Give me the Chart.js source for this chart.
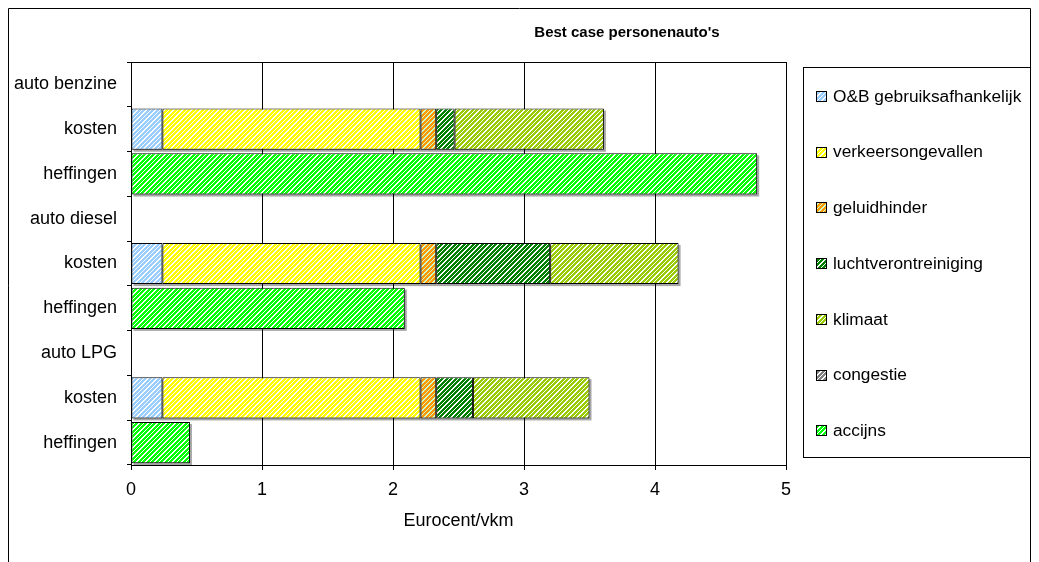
<!DOCTYPE html>
<html>
<head>
<meta charset="utf-8">
<script src="https://cdn.jsdelivr.net/npm/chart.js@4"></script>
<style>
  html, body { margin: 0; padding: 0; background: #ffffff; }
  #wrap { width: 1039px; height: 562px; position: relative; }
</style>
</head>
<body>
<div id="wrap"><canvas id="c" width="1039" height="562"></canvas></div>
<script>
// Rows of the chart (top to bottom)
const categories = ['auto benzine', 'kosten', 'heffingen', 'auto diesel', 'kosten', 'heffingen', 'auto LPG', 'kosten', 'heffingen'];

// Values in eurocent per vehicle-km
const onderhoud  = [null, 0.24, null, null, 0.24, null, null, 0.24, null];
const ongevallen = [null, 1.97, null, null, 1.97, null, null, 1.97, null];
const geluid     = [null, 0.12, null, null, 0.12, null, null, 0.12, null];
const lucht      = [null, 0.14, null, null, 0.87, null, null, 0.28, null];
const klimaat    = [null, 1.14, null, null, 0.98, null, null, 0.89, null];
const congestie  = [null, 0,    null, null, 0,    null, null, 0,    null];
const accijns    = [null, null, 4.78, null, null, 2.09, null, null, 0.45];

const xTicks = [0, 1, 2, 3, 4, 5];

const FONT = '"Liberation Sans", Arial, sans-serif';
const canvas = document.getElementById('c');
const ctx = canvas.getContext('2d');

// Diagonal hatch fill ("/" direction): coloured stripes on a light background
function stripes(fg, bg) {
  const n = 9;          // tile holds two stripe periods of 4.5 px
  const t = document.createElement('canvas');
  t.width = n; t.height = n;
  const g = t.getContext('2d');
  g.fillStyle = bg;
  g.fillRect(0, 0, n, n);
  g.fillStyle = fg;
  for (let y = 0; y < n; y++) {
    for (let x = 0; x < n; x++) {
      const phase = ((x + y) % 4.5) / 4.5;
      if (phase < 0.62) g.fillRect(x, y, 1, 1);
    }
  }
  return ctx.createPattern(t, 'repeat');
}

const series = [
  { label: 'O&B gebruiksafhankelijk', data: onderhoud,  fill: stripes('#99ccff', '#ffffff') },
  { label: 'verkeersongevallen',      data: ongevallen, fill: stripes('#ffff00', '#ffffff') },
  { label: 'geluidhinder',            data: geluid,     fill: stripes('#ff9900', '#ccffcc') },
  { label: 'luchtverontreiniging',    data: lucht,      fill: stripes('#008000', '#ffffff') },
  { label: 'klimaat',                 data: klimaat,    fill: stripes('#99cc00', '#ffffff') },
  { label: 'congestie',               data: congestie,  fill: stripes('#808080', '#ffffff') },
  { label: 'accijns',                 data: accijns,    fill: stripes('#00ff00', '#ffffff') }
];

// Soft drop shadow behind each stacked bar
const barShadow = {
  id: 'barShadow',
  beforeDatasetsDraw(chart) {
    const c = chart.ctx;
    const n = chart.data.labels.length;
    c.save();
    c.fillStyle = 'rgba(0,0,0,0.35)';
    for (let i = 0; i < n; i++) {
      let l = Infinity, r = -Infinity, t = Infinity, b = -Infinity;
      chart.data.datasets.forEach((ds, d) => {
        const v = ds.data[i];
        if (v === null || v === undefined || v === 0) return;
        const el = chart.getDatasetMeta(d).data[i];
        const p = el.getProps(['x', 'y', 'base', 'height'], true);
        l = Math.min(l, p.base, p.x);
        r = Math.max(r, p.base, p.x);
        t = Math.min(t, p.y - p.height / 2);
        b = Math.max(b, p.y + p.height / 2);
      });
      if (r > l) c.fillRect(l + 2, t + 2, r - l, b - t);
    }
    c.restore();
  }
};

// Frame, plot border, title and legend box
const decorations = {
  id: 'decorations',
  afterDraw(chart) {
    const c = chart.ctx;
    const a = chart.chartArea;
    c.save();
    c.strokeStyle = '#000000';
    c.lineWidth = 1;
    // outer frame
    c.beginPath();
    c.moveTo(8.5, 575);
    c.lineTo(8.5, 8.5);
    c.lineTo(1030.5, 8.5);
    c.lineTo(1030.5, 575);
    c.stroke();
    // plot area border
    c.strokeRect(Math.round(a.left) + 0.5, Math.round(a.top) + 0.5,
                 Math.round(a.right - a.left), Math.round(a.bottom - a.top));
    // title
    c.fillStyle = '#000000';
    c.font = 'bold 15px ' + FONT;
    c.textAlign = 'center';
    c.textBaseline = 'middle';
    c.fillText("Best case personenauto's", 627, 33);
    // legend
    c.strokeStyle = '#000000';
    c.strokeRect(803.5, 67.5, 227, 390);
    c.font = '17.3px ' + FONT;
    c.textAlign = 'left';
    chart.data.datasets.forEach((ds, i) => {
      const y = 96 + i * 55.7;
      c.fillStyle = ds.backgroundColor;
      c.fillRect(817, Math.round(y) - 4, 9, 9);
      c.strokeStyle = '#000000';
      c.strokeRect(816.5, Math.round(y) - 4.5, 10, 10);
      c.fillStyle = '#000000';
      c.fillText(ds.label, 833, y + 1);
    });
    c.restore();
  }
};

new Chart(canvas, {
  type: 'bar',
  data: {
    labels: categories,
    datasets: series.map(s => ({
      label: s.label,
      data: s.data,
      backgroundColor: s.fill,
      borderColor: '#000000',
      borderWidth: 1,
      borderSkipped: false,
      barPercentage: 0.92,
      categoryPercentage: 1.0
    }))
  },
  options: {
    indexAxis: 'y',
    responsive: false,
    animation: false,
    devicePixelRatio: 1,
    layout: { padding: { left: 0, top: 62, right: 253, bottom: 27 } },
    plugins: {
      legend: { display: false },
      title: { display: false },
      tooltip: { enabled: false }
    },
    scales: {
      x: {
        stacked: true,
        min: 0,
        max: 5,
        afterBuildTicks(scale) { scale.ticks = xTicks.map(v => ({ value: v })); },
        afterFit(scale) { scale.height = 70; },
        ticks: { color: '#000000', font: { family: FONT, size: 18 }, padding: 9 },
        grid: { color: '#000000', lineWidth: 1, tickLength: 5, drawOnChartArea: true },
        border: { color: '#000000', width: 1 },
        title: {
          display: true,
          text: 'Eurocent/vkm',
          color: '#000000',
          font: { family: FONT, size: 18 },
          padding: { top: 4, bottom: 3 }
        }
      },
      y: {
        stacked: true,
        afterFit(scale) { scale.width = 131; },
        ticks: { color: '#000000', font: { family: FONT, size: 18 }, padding: 10, autoSkip: false },
        grid: { color: '#000000', lineWidth: 1, tickLength: 4, drawOnChartArea: false, offset: true },
        border: { color: '#000000', width: 1 }
      }
    }
  },
  plugins: [barShadow, decorations]
});
</script>
</body>
</html>
